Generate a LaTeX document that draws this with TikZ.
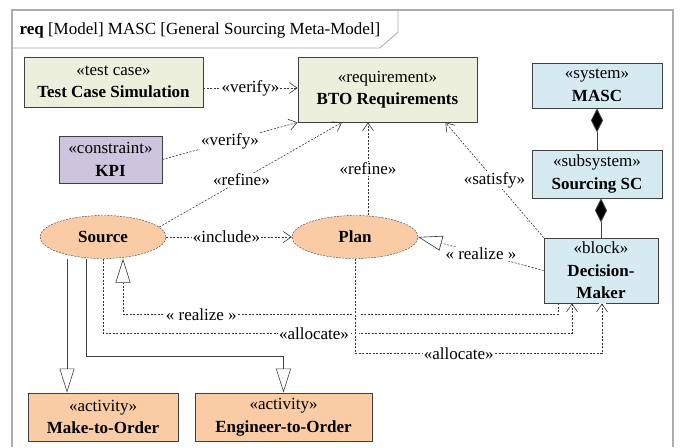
\documentclass[tikz,border=0pt]{standalone}
\usepackage{fontspec}
\setmainfont{Liberation Serif}
\usetikzlibrary{arrows.meta,shapes.geometric}
\definecolor{reqfill}{HTML}{EBEFDC}
\definecolor{kpifill}{HTML}{CEC4DE}
\definecolor{sysfill}{HTML}{D5EAF1}
\definecolor{actfill}{HTML}{F9CCA6}
\newcommand{\stereo}[2]{«#1»\\\textbf{#2}}

\begin{document}
\begin{tikzpicture}[x=1pt,y=-1pt,
  every node/.style={font=\fontsize{17}{22.5}\selectfont},
  blk/.style={draw=black!75,line width=0.8pt,align=center,inner sep=0pt},
  uc/.style={ellipse,draw=black!75,dash pattern=on 2pt off 1.2pt,fill=actfill,
    minimum width=126pt,minimum height=43pt,inner sep=0pt},
  dep/.style={draw=black!80,dash pattern=on 2pt off 1.5pt,line width=0.6pt},
  opn/.style={dep,-{Straight Barb[length=8pt,width=11pt]}},
  rlz/.style={dep,-{Triangle[open,length=24pt,width=15pt]}},
  gen/.style={draw=black!75,line width=0.6pt,-{Triangle[open,length=24pt,width=15pt]}},
  comp/.style={draw=black!75,line width=0.8pt,{Diamond[length=24pt,width=12pt,fill=black]}-},
  hop/.style={preaction={draw=white,line width=7pt,solid,-}},
  lbl/.style={fill=white,inner sep=1pt}]
\useasboundingbox (0,0) rectangle (685,447);
\draw[gray!65,line width=1.6pt] (12,447) -- (12,10) -- (673,10) -- (673,447);
\draw[gray!65,line width=0.8pt] (12,48) -- (380,48) -- (398,32) -- (398,10);
\node[anchor=west] (title) at (16,30) {\textbf{req} [Model] MASC [General Sourcing Meta-Model]};

\node[blk,fill=reqfill,minimum width=179pt,minimum height=50pt] (tcs) at (113.5,82) {\stereo{test case}{Test Case Simulation}};
\node[blk,fill=reqfill,minimum width=179pt,minimum height=65pt] (bto) at (387.5,89.5) {\stereo{requirement}{BTO Requirements}};
\node[blk,fill=kpifill,minimum width=103pt,minimum height=47pt] (kpi) at (110.5,159.5) {\stereo{constraint}{KPI}};
\node[blk,fill=sysfill,minimum width=130pt,minimum height=45pt] (masc) at (597,85.5) {\stereo{system}{MASC}};
\node[blk,fill=sysfill,minimum width=130pt,minimum height=48pt] (ssc) at (597,174) {\stereo{subsystem}{Sourcing SC}};
\node[blk,fill=sysfill,minimum width=114pt,minimum height=65pt] (dm) at (601,270.5) {«block»\\\textbf{Decision-}\\\textbf{Maker}};
\node[uc] (src) at (103,237) {\textbf{Source}};
\node[uc] (plan) at (355,237) {\textbf{Plan}};
\node[blk,fill=actfill,minimum width=150pt,minimum height=48pt] (mto) at (103,417) {\stereo{activity}{Make-to-Order}};
\node[blk,fill=actfill,minimum width=177pt,minimum height=48pt] (eto) at (283.5,417) {\stereo{activity}{Engineer-to-Order}};

\draw[opn] ([yshift=-6pt]tcs.east) -- node[lbl]{«verify»} ([yshift=-6pt]tcs.east -| bto.west);
\draw[opn] (kpi.east) -- node[lbl]{«verify»} (bto.south west);
\draw[opn] (src.10) -- node[lbl,pos=0.45]{«refine»} ([xshift=-45.5pt]bto.south);
\draw[opn] ([xshift=13pt]plan.north) -- node[lbl]{«refine»} ([xshift=13pt]plan.north |- bto.south);
\draw[opn] (dm.north west) -- node[lbl]{«satisfy»} ([xshift=-32pt]bto.south east);
\draw[opn] (src.east) -- node[lbl,pos=0.48]{«include»} (plan.west);
\draw[rlz] (dm.west) -- node[lbl]{« realize »} (plan.east);
\draw[rlz] ([xshift=-43pt]dm.south) -- ++(0,11) -- node[lbl,pos=0.82]{« realize »} ++(-435,0) -- ([xshift=20pt]src.south);
\draw[opn] (src.south) -- ++(0,74.5) -- node[lbl,pos=0.45]{«allocate»} ++(469,0) -- ([xshift=-29pt]dm.south);
\draw[opn,hop] (plan.south) -- ++(0,94.5) -- node[lbl,pos=0.42]{«allocate»} ++(247,0) -- ([xshift=1pt]dm.south);
\draw[comp] (masc.south) -- (ssc.north);
\draw[comp] (ssc.south -| dm.north) -- (dm.north);
\draw[gen] ([xshift=-36pt]src.south) -- ([xshift=-36pt]src.south |- mto.north);
\draw[gen] ([xshift=-17pt]src.south) -- ++(0,97.5) -| (eto.north);
\end{tikzpicture}
\end{document}
